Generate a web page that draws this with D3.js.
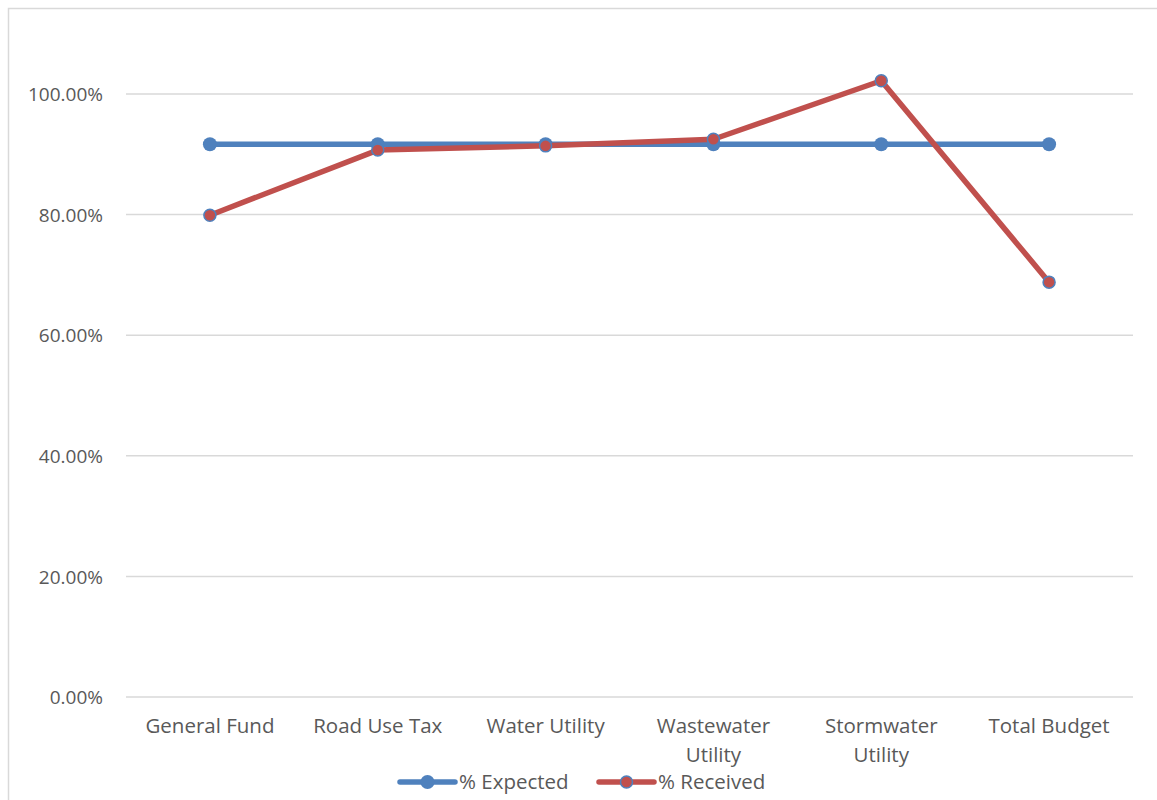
<!DOCTYPE html>
<html>
<head>
<meta charset="utf-8">
<script src="https://cdn.jsdelivr.net/npm/d3@7"></script>
<style>
  body { margin: 0; background: #fff; }
  text { font-family: "Open Sans", sans-serif; fill: #595959; }
</style>
</head>
<body>
<div id="chart"></div>
<script>
// data
var categories = ["General Fund", "Road Use Tax", "Water Utility", "Wastewater Utility", "Stormwater Utility", "Total Budget"];
var expected = [0.9167, 0.9167, 0.9167, 0.9167, 0.9167, 0.9167];
var received = [0.799, 0.907, 0.914, 0.925, 1.022, 0.688];
var yTicks = [0, 0.2, 0.4, 0.6, 0.8, 1.0];
var seriesNames = ["% Expected", "% Received"];

var w = 1157, h = 800;
var margin = { top: 94, left: 126, right: 24, bottom: 103 };
var blue = "#4f81bd", red = "#c0504d";

var svg = d3.select("#chart").append("svg")
  .attr("width", w)
  .attr("height", h);

// chart frame (only top/left edges visible in the crop)
svg.append("path")
  .attr("d", "M8.5," + h + "V8.5H" + w)
  .attr("fill", "none")
  .attr("stroke", "#d9d9d9")
  .attr("stroke-width", 1.5);

var x = d3.scaleBand()
  .domain(categories)
  .range([margin.left, w - margin.right]);

var y = d3.scaleLinear()
  .domain([0, 1.0])
  .range([h - margin.bottom, margin.top]);

// gridlines
svg.append("g")
  .selectAll("line")
  .data(yTicks)
  .join("line")
  .attr("x1", margin.left)
  .attr("x2", w - margin.right)
  .attr("y1", d => y(d))
  .attr("y2", d => y(d))
  .attr("stroke", "#d9d9d9")
  .attr("stroke-width", 1.5);

// y axis labels
var yAxis = svg.append("g")
  .attr("transform", "translate(" + (margin.left - 23) + ",0)")
  .call(d3.axisLeft(y).tickValues(yTicks).tickSize(0).tickFormat(d => (d * 100).toFixed(2) + "%"));
yAxis.select(".domain").remove();
yAxis.selectAll("text")
  .attr("x", 0)
  .attr("dy", "0.35em")
  .style("font-size", "19px")
  .style("font-family", "'Open Sans', sans-serif")
  .attr("fill", "#595959");

// x axis labels, wrapped like the original
var xLabels = svg.append("g");
categories.forEach(function(c) {
  var words = c.indexOf("Utility") > 0 && c !== "Water Utility" ? [c.replace(" Utility", ""), "Utility"] : [c];
  var t = xLabels.append("text")
    .attr("text-anchor", "middle")
    .style("font-size", "20.5px")
    .attr("x", x(c) + x.bandwidth() / 2)
    .attr("y", h - margin.bottom + 36);
  words.forEach(function(wd, i) {
    t.append("tspan")
      .attr("x", x(c) + x.bandwidth() / 2)
      .attr("dy", i === 0 ? 0 : 29)
      .text(wd);
  });
});

var cx = d => x(d) + x.bandwidth() / 2;

var line = d3.line()
  .x((d, i) => cx(categories[i]))
  .y(d => y(d));

// expected series
svg.append("path")
  .datum(expected)
  .attr("d", line)
  .attr("fill", "none")
  .attr("stroke", blue)
  .attr("stroke-width", 5.5)
  .attr("stroke-linejoin", "round");

svg.append("g")
  .selectAll("circle")
  .data(expected)
  .join("circle")
  .attr("cx", (d, i) => cx(categories[i]))
  .attr("cy", d => y(d))
  .attr("r", 7)
  .attr("fill", blue);

// received series
svg.append("path")
  .datum(received)
  .attr("d", line)
  .attr("fill", "none")
  .attr("stroke", red)
  .attr("stroke-width", 5.5)
  .attr("stroke-linejoin", "round");

svg.append("g")
  .selectAll("circle")
  .data(received)
  .join("circle")
  .attr("cx", (d, i) => cx(categories[i]))
  .attr("cy", d => y(d))
  .attr("r", 6)
  .attr("fill", red)
  .attr("stroke", blue)
  .attr("stroke-width", 1.5);

// legend
var legend = svg.append("g").attr("transform", "translate(0,782)");
var legendItems = [
  { name: seriesNames[0], color: blue, x0: 400, mfill: blue, mstroke: "none" },
  { name: seriesNames[1], color: red, x0: 599, mfill: red, mstroke: blue }
];
legendItems.forEach(function(it) {
  legend.append("line")
    .attr("x1", it.x0).attr("x2", it.x0 + 55)
    .attr("stroke", it.color)
    .attr("stroke-width", 5.5)
    .attr("stroke-linecap", "round");
  legend.append("circle")
    .attr("cx", it.x0 + 27.5)
    .attr("r", it.mstroke === "none" ? 7 : 6)
    .attr("fill", it.mfill)
    .attr("stroke", it.mstroke)
    .attr("stroke-width", 1.5);
  legend.append("text")
    .attr("x", it.x0 + 59)
    .attr("dy", "0.35em")
    .style("font-size", "20.5px")
    .text(it.name);
});
</script>
</body>
</html>
